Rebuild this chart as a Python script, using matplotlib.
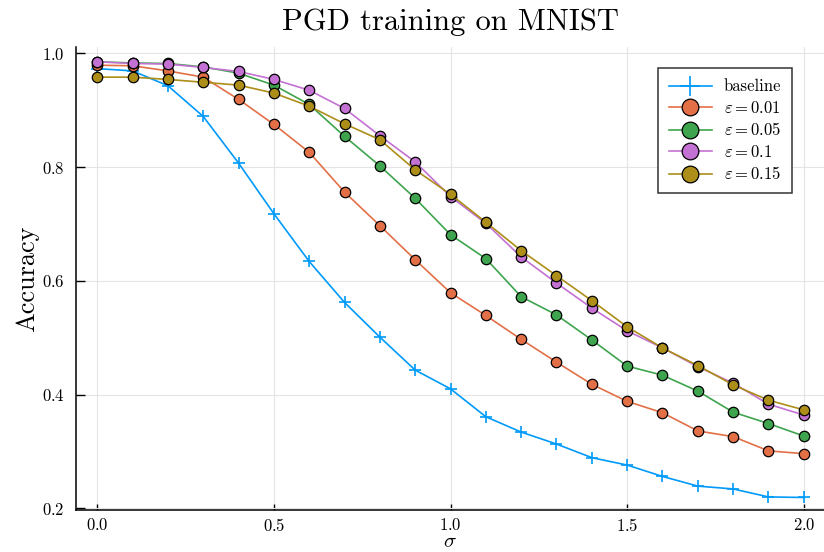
import matplotlib
matplotlib.use("Agg")
import matplotlib.pyplot as plt

# data
sigma = [0.0, 0.1, 0.2, 0.3, 0.4, 0.5, 0.6, 0.7, 0.8, 0.9, 1.0,
         1.1, 1.2, 1.3, 1.4, 1.5, 1.6, 1.7, 1.8, 1.9, 2.0]
baseline = [0.973, 0.969, 0.943, 0.889, 0.807, 0.718, 0.634, 0.562, 0.501, 0.443, 0.410,
            0.361, 0.334, 0.313, 0.289, 0.276, 0.256, 0.239, 0.234, 0.220, 0.219]
eps_001 = [0.979, 0.978, 0.969, 0.958, 0.919, 0.875, 0.826, 0.756, 0.697, 0.637, 0.579,
           0.539, 0.497, 0.457, 0.418, 0.388, 0.368, 0.336, 0.326, 0.301, 0.296]
eps_005 = [0.985, 0.983, 0.982, 0.976, 0.965, 0.944, 0.910, 0.854, 0.802, 0.745, 0.681,
           0.639, 0.572, 0.540, 0.496, 0.450, 0.434, 0.406, 0.369, 0.349, 0.327]
eps_01 = [0.985, 0.982, 0.981, 0.975, 0.968, 0.954, 0.935, 0.903, 0.855, 0.809, 0.748,
          0.701, 0.642, 0.596, 0.552, 0.512, 0.482, 0.449, 0.420, 0.383, 0.364]
eps_015 = [0.958, 0.958, 0.954, 0.949, 0.944, 0.930, 0.907, 0.876, 0.848, 0.795, 0.752,
           0.703, 0.653, 0.609, 0.565, 0.519, 0.482, 0.451, 0.417, 0.390, 0.373]

eps_series = [eps_001, eps_005, eps_01, eps_015]
eps_labels = [r"$\varepsilon = 0.01$", r"$\varepsilon = 0.05$",
              r"$\varepsilon = 0.1$", r"$\varepsilon = 0.15$"]
eps_colors = ["#E36F47", "#3EA44E", "#C371D2", "#AC8E18"]

plt.rcParams["font.family"] = "serif"
plt.rcParams["font.serif"] = ["cmr10"]
plt.rcParams["mathtext.fontset"] = "cm"
plt.rcParams["axes.formatter.use_mathtext"] = True

fig = plt.figure(figsize=(8.24, 5.52), dpi=100)
ax = fig.add_axes([76 / 824, 42 / 552, 749 / 824, 463 / 552])

ax.plot(sigma, baseline, color="#009AFA", lw=1.2, marker="+", ms=9, mew=1.2,
        label="baseline", zorder=3)
for vals, lab, col in zip(eps_series, eps_labels, eps_colors):
    ax.plot(sigma, vals, color=col, lw=1.2, marker="o", ms=7.5, mfc=col,
            mec="black", mew=0.9, label=lab, zorder=3)

ax.set_xlim(-0.06, 2.06)
ax.set_ylim(0.197, 1.011)
ax.set_xticks([0.0, 0.5, 1.0, 1.5, 2.0])
ax.set_yticks([0.2, 0.4, 0.6, 0.8, 1.0])

ax.grid(True, color="#e4e4e4", lw=0.8)
ax.set_axisbelow(True)
ax.spines["top"].set_visible(False)
ax.spines["right"].set_visible(False)
ax.spines["left"].set_linewidth(1.1)
ax.spines["bottom"].set_linewidth(1.1)
ax.tick_params(axis="y", direction="in", length=6.5, width=1, labelsize=12, pad=8)
ax.tick_params(axis="x", direction="in", length=4, width=1, labelsize=12, pad=5)

ax.set_title("PGD training on MNIST", fontsize=22, pad=12)
# x label placed by hand just under the tick labels, as in the reference
fig.text(450 / 824, 1 / 552, r"$\sigma$", fontsize=15, ha="center", va="bottom")
ax.set_ylabel("Accuracy", fontsize=19, labelpad=2)

leg = ax.legend(loc="upper right", bbox_to_anchor=(0.967, 0.972), fontsize=12,
                markerscale=1.6, fancybox=False, framealpha=1, edgecolor="#333333",
                handlelength=2.6, borderpad=0.65, labelspacing=0.33, handletextpad=0.7)
leg.get_frame().set_linewidth(1.1)

fig.savefig("out.png", dpi=100)
